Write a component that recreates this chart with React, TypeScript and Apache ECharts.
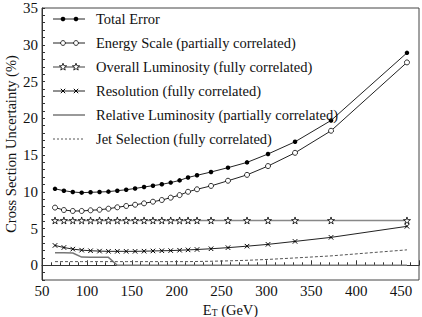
import React, { useEffect, useRef } from "react";
import * as echarts from "echarts";

const etValues = [64.5, 74.4, 84.3, 94.2, 104.1, 114.1, 124.0, 133.9, 143.8, 153.7, 163.7, 173.6, 183.5, 193.4, 203.3, 212.7, 222.7, 238.3, 257.2, 278.4, 301.8, 331.9, 372.0, 456.6];
const totalError = [10.4, 10.15, 9.97, 9.88, 9.93, 9.97, 10.02, 10.15, 10.28, 10.45, 10.65, 10.83, 11.02, 11.25, 11.55, 11.95, 12.24, 12.69, 13.28, 14.0, 15.14, 16.8, 19.7, 28.9];
const energyScale = [7.85, 7.52, 7.39, 7.39, 7.48, 7.56, 7.7, 7.89, 8.07, 8.24, 8.43, 8.65, 8.88, 9.2, 9.55, 10.0, 10.34, 10.8, 11.5, 12.3, 13.5, 15.3, 18.3, 27.6];
const overallLumi = [6.1, 6.1, 6.1, 6.1, 6.1, 6.1, 6.1, 6.1, 6.1, 6.1, 6.1, 6.1, 6.1, 6.1, 6.1, 6.1, 6.1, 6.1, 6.1, 6.1, 6.1, 6.1, 6.1, 6.1];
const resolution = [2.7, 2.42, 2.2, 2.06, 1.98, 1.93, 1.9, 1.9, 1.9, 1.9, 1.92, 1.95, 1.98, 2.0, 2.05, 2.1, 2.15, 2.25, 2.4, 2.6, 2.85, 3.25, 3.8, 5.3];
const relativeLumi = [1.72, 1.72, 1.68, 1.12, 1.1, 1.1, 1.08, 0.0, 0.0, 0.0, 0.0, 0.0, 0.0, 0.0, 0.0, 0.0, 0.0, 0.0, 0.0, 0.0, 0.0, 0.0, 0.0, 0.0];
const jetSelection = [0.5, 0.5, 0.5, 0.5, 0.5, 0.5, 0.5, 0.5, 0.5, 0.5, 0.5, 0.5, 0.5, 0.5, 0.5, 0.5, 0.52, 0.55, 0.6, 0.68, 0.8, 1.0, 1.28, 2.1];

const seriesNames = [
  "Total Error",
  "Energy Scale (partially correlated)",
  "Overall Luminosity (fully correlated)",
  "Resolution (fully correlated)",
  "Relative Luminosity (partially correlated)",
  "Jet Selection (fully correlated)",
];
const xTicks = [50, 100, 150, 200, 250, 300, 350, 400, 450];
const yTicks = [0, 5, 10, 15, 20, 25, 30, 35];

const FONT = "'Liberation Serif', 'DejaVu Serif', serif";
const STAR = "path://M50,0 L61,35 L98,35 L68,57 L79,91 L50,70 L21,91 L32,57 L2,35 L39,35 Z";
const CROSS = "path://M0,0 L10,10 M10,0 L0,10";

function zip(ys: number[]) {
  return etValues.map((x, i) => [x, ys[i]]);
}

function starPoints(cx: number, cy: number, r: number) {
  const pts: number[][] = [];
  for (let i = 0; i < 10; i++) {
    const rr = i % 2 === 0 ? r : r * 0.42;
    const a = -Math.PI / 2 + (i * Math.PI) / 5;
    pts.push([cx + rr * Math.cos(a), cy + rr * Math.sin(a)]);
  }
  return pts;
}

function buildLegend() {
  const els: any[] = [];
  const x0 = 53, x1 = 85, m1 = 63, m2 = 76, tx = 96;
  const y0 = 19, dy = 24;
  seriesNames.forEach((name, i) => {
    const y = y0 + i * dy;
    const lineStyle: any = { stroke: "#222", lineWidth: 1 };
    if (i === 2) { lineStyle.stroke = "#888"; lineStyle.lineWidth = 1.6; }
    if (i === 4) { lineStyle.stroke = "#777"; lineStyle.lineWidth = 1.5; }
    if (i === 5) { lineStyle.stroke = "#555"; lineStyle.lineDash = [2, 2]; }
    els.push({ type: "line", shape: { x1: x0, y1: y, x2: x1, y2: y }, style: lineStyle, z: 10 });
    [m1, m2].forEach((mx) => {
      if (i === 0) els.push({ type: "circle", shape: { cx: mx, cy: y, r: 2.3 }, style: { fill: "#000" }, z: 11 });
      if (i === 1) els.push({ type: "circle", shape: { cx: mx, cy: y, r: 2.4 }, style: { fill: "#fff", stroke: "#000", lineWidth: 0.8 }, z: 11 });
      if (i === 2) els.push({ type: "polygon", shape: { points: starPoints(mx, y, 3.8) }, style: { fill: "#fff", stroke: "#000", lineWidth: 0.8 }, z: 11 });
      if (i === 3) {
        els.push({ type: "line", shape: { x1: mx - 2.2, y1: y - 2.2, x2: mx + 2.2, y2: y + 2.2 }, style: { stroke: "#000", lineWidth: 1 }, z: 11 });
        els.push({ type: "line", shape: { x1: mx - 2.2, y1: y + 2.2, x2: mx + 2.2, y2: y - 2.2 }, style: { stroke: "#000", lineWidth: 1 }, z: 11 });
      }
    });
    els.push({ type: "text", x: tx, y, style: { text: name, font: `14.5px ${FONT}`, fill: "#111", verticalAlign: "middle", align: "left" }, z: 11 });
  });
  return els;
}

export default function App() {
  const ref = useRef<HTMLDivElement>(null);
  useEffect(() => {
    const chart = echarts.init(ref.current!, null, { renderer: "svg" });
    const baseLine = { color: "#222", width: 1 };
    chart.setOption({
      animation: false,
      backgroundColor: "#fff",
      textStyle: { fontFamily: FONT },
      grid: {
        left: 42, right: 3, top: 8, bottom: 37,
        containLabel: false, outerBoundsMode: "none",
        show: true, borderColor: "#444", borderWidth: 1,
      },
      xAxis: {
        type: "value",
        min: 50,
        max: 470,
        interval: 50,
        name: "{e|E}{t|T}{e| (GeV)}",
        nameLocation: "middle",
        nameGap: 16,
        nameTextStyle: {
          rich: {
            e: { fontFamily: FONT, fontSize: 14.5, color: "#111" },
            t: { fontFamily: FONT, fontSize: 9.5, color: "#111", verticalAlign: "bottom", padding: [6, 0, 0, 0] },
          },
        },
        axisLine: { lineStyle: { color: "#333", width: 1 } },
        axisTick: { inside: true, length: 5, lineStyle: { color: "#333" } },
        minorTick: { show: true, splitNumber: 5, length: 3, lineStyle: { color: "#333" } },
        splitLine: { show: false },
        axisLabel: {
          fontFamily: FONT,
          fontSize: 15,
          color: "#111",
          margin: 3,
          formatter: (v: number) => (xTicks.includes(v) ? String(v) : ""),
        },
      },
      yAxis: {
        type: "value",
        min: -2,
        max: 35,
        interval: 1,
        name: "Cross Section Uncertainty (%)",
        nameLocation: "middle",
        nameGap: 24,
        nameMoveOverlap: false,
        nameTextStyle: { fontFamily: FONT, fontSize: 14.5, color: "#111" },
        axisLine: { lineStyle: { color: "#333", width: 1 } },
        axisTick: { show: true, inside: true, length: 3, lineStyle: { color: "#333" } },
        splitLine: { show: false },
        axisLabel: {
          fontFamily: FONT,
          fontSize: 15,
          color: "#111",
          margin: 4,
          formatter: (v: number) => (yTicks.includes(v) ? String(v) : ""),
        },
      },
      graphic: buildLegend(),
      series: [
        {
          name: seriesNames[0], type: "line", data: zip(totalError), symbol: "circle", symbolSize: 4.5,
          lineStyle: baseLine, itemStyle: { color: "#000" }, z: 5,
        },
        {
          name: seriesNames[1], type: "line", data: zip(energyScale), symbol: "circle", symbolSize: 5,
          lineStyle: baseLine, itemStyle: { color: "#fff", borderColor: "#000", borderWidth: 0.8 }, z: 5,
        },
        {
          name: seriesNames[2], type: "line", data: zip(overallLumi), symbol: STAR, symbolSize: 7,
          lineStyle: { color: "#888", width: 1.6 }, itemStyle: { color: "#fff", borderColor: "#000", borderWidth: 0.8 }, z: 5,
        },
        {
          name: seriesNames[3], type: "line", data: zip(resolution), symbol: CROSS, symbolSize: 4.5,
          lineStyle: baseLine, itemStyle: { color: "#000", borderColor: "#000", borderWidth: 1 }, z: 5,
        },
        {
          name: seriesNames[4], type: "line", data: zip(relativeLumi), showSymbol: false, symbol: "none",
          lineStyle: { color: "#777", width: 1.5 }, z: 4,
        },
        {
          name: seriesNames[5], type: "line", data: zip(jetSelection), showSymbol: false, symbol: "none",
          lineStyle: { color: "#555", width: 1, type: [3, 2] }, z: 4,
        },
      ],
    });
    return () => chart.dispose();
  }, []);
  return <div ref={ref} style={{ position: "absolute", left: 0, top: 0, width: 422, height: 317 }} />;
}
